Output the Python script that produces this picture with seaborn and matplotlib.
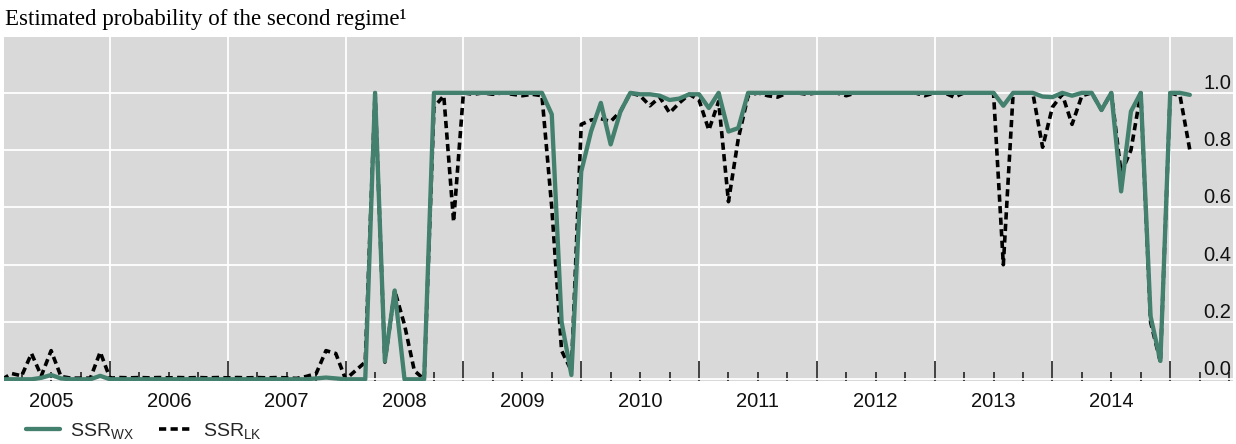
import numpy as np
import pandas as pd
import seaborn as sns
import matplotlib
import matplotlib.pyplot as plt
from matplotlib.ticker import FixedLocator, FixedFormatter, NullFormatter

matplotlib.use('Agg')

# monthly observations, first one is Feb 2005
first_year = 2005
first_month = 1

# SSR_WX, one row per year
ssr_wx = [
    0.0, 0.0, 0.0, 0.0, 0.005, 0.015, 0.003, 0.0, 0.0, 0.0, 0.012,                # 2005 Feb-Dec
    0.0, 0.0, 0.0, 0.0, 0.0, 0.0, 0.0, 0.0, 0.0, 0.0, 0.0, 0.0,                   # 2006
    0.0, 0.0, 0.0, 0.0, 0.0, 0.0, 0.0, 0.0, 0.0, 0.003, 0.006, 0.003,             # 2007
    0.0, 0.0, 0.0, 1.0, 0.063, 0.31, 0.0, 0.0, 0.0, 1.0, 1.0, 1.0,                # 2008
    1.0, 1.0, 1.0, 1.0, 1.0, 1.0, 1.0, 1.0, 1.0, 0.925, 0.20, 0.015,              # 2009
    0.725, 0.865, 0.965, 0.82, 0.935, 1.0, 0.995, 0.995, 0.99, 0.975, 0.98, 0.995,  # 2010
    0.995, 0.947, 1.0, 0.865, 0.877, 1.0, 1.0, 1.0, 1.0, 1.0, 1.0, 1.0,           # 2011
    1.0, 1.0, 1.0, 1.0, 1.0, 1.0, 1.0, 1.0, 1.0, 1.0, 1.0, 1.0,                   # 2012
    1.0, 1.0, 1.0, 1.0, 1.0, 1.0, 1.0, 0.955, 1.0, 1.0, 1.0, 0.987,               # 2013
    0.985, 1.0, 0.99, 1.0, 1.0, 0.94, 1.0, 0.656, 0.935, 1.0, 0.22, 0.064,        # 2014
    1.0, 1.0, 0.993,                                                              # 2015 Jan-Mar
]

# SSR_LK, one row per year
ssr_lk = [
    0.0, 0.02, 0.012, 0.09, 0.012, 0.10, 0.01, 0.004, 0.004, 0.004, 0.095,
    0.004, 0.006, 0.005, 0.006, 0.005, 0.006, 0.005, 0.006, 0.005, 0.006, 0.005, 0.006,
    0.005, 0.006, 0.005, 0.006, 0.005, 0.006, 0.005, 0.003, 0.01, 0.02, 0.10, 0.09,
    0.0, 0.03, 0.06, 1.0, 0.06, 0.31, 0.19, 0.03, 0.0, 0.95, 0.99, 0.55,
    1.0, 0.995, 1.0, 0.995, 1.0, 0.995, 0.99, 0.995, 0.99, 0.6, 0.10, 0.03,
    0.89, 0.905, 0.91, 0.90, 0.935, 1.0, 0.99, 0.955, 0.985, 0.93, 0.965, 0.995,
    0.975, 0.87, 0.97, 0.62, 0.84, 0.99, 1.0, 0.99, 0.985, 1.0, 1.0, 0.995,
    1.0, 1.0, 1.0, 0.99, 1.0, 1.0, 1.0, 1.0, 1.0, 1.0, 1.0, 0.99,
    1.0, 1.0, 0.985, 1.0, 1.0, 1.0, 1.0, 0.40, 1.0, 1.0, 1.0, 0.81,
    0.95, 0.995, 0.89, 0.99, 1.0, 0.94, 1.0, 0.72, 0.80, 1.0, 0.20, 0.06,
    1.0, 0.99, 0.80,
]

year_starts = list(range(2006, 2016))
year_names = [str(y) for y in range(2005, 2015)]
y_ticks = [0.0, 0.2, 0.4, 0.6, 0.8, 1.0]

GREEN = '#43806d'

t = first_year + (first_month + np.arange(len(ssr_wx))) / 12
df = pd.DataFrame({'t': t, 'wx': ssr_wx, 'lk': ssr_lk})

sns.set_style('darkgrid', {'axes.facecolor': '#d9d9d9', 'grid.color': 'white'})
plt.rcParams['font.family'] = ['Liberation Sans', 'DejaVu Sans']
plt.rcParams['mathtext.fontset'] = 'custom'
plt.rcParams['mathtext.rm'] = 'Liberation Sans'
plt.rcParams['mathtext.it'] = 'Liberation Sans:italic'

fig = plt.figure(figsize=(12.36, 4.44), dpi=100)
ax = fig.add_axes([4 / 1236, 1 - 381 / 444, 1229 / 1236, 344 / 444])

# dashed line first so the green one sits on top
sns.lineplot(data=df, x='t', y='lk', ax=ax, color='black', linewidth=2.6,
             linestyle=(0, (2.0, 1.2)), label=r'SSR$_\mathrm{LK}$', zorder=3)
sns.lineplot(data=df, x='t', y='wx', ax=ax, color=GREEN, linewidth=3.1,
             label=r'SSR$_\mathrm{WX}$', zorder=4)

ax.set_xlim(2005.10, 2015.533)
ax.set_ylim(-0.006, 1.195)
ax.set_xlabel('')
ax.set_ylabel('')
for s in ax.spines.values():
    s.set_visible(False)

# x axis: year boundaries as major ticks, quarters as minor, year names at mid-year
quarters = [y + q for y in range(2005, 2016) for q in (0.25, 0.5, 0.75)]
quarter_labels = []
for y in range(2005, 2016):
    quarter_labels += ['', str(y) if str(y) in year_names else '', '']
ax.xaxis.set_major_locator(FixedLocator(year_starts))
ax.xaxis.set_major_formatter(NullFormatter())
ax.xaxis.set_minor_locator(FixedLocator(quarters))
ax.xaxis.set_minor_formatter(FixedFormatter(quarter_labels))
ax.tick_params(axis='x', which='major', direction='in', bottom=True,
               length=14.5, width=1.2, color='#222222')
ax.tick_params(axis='x', which='minor', direction='in', bottom=True,
               length=6.5, width=1.2, color='#222222', pad=8,
               labelsize=14.5, labelcolor='#111111')

# y axis: labels inside on the right, sitting just above the grid lines
ax.yaxis.set_major_locator(FixedLocator(y_ticks))
ax.set_yticklabels([f'{v:.1f}' for v in y_ticks])
ax.tick_params(axis='y', left=False, right=False, labelleft=False,
               labelright=True, pad=-5, labelsize=14.5, labelcolor='#111111')
for lab in ax.get_yticklabels():
    lab.set_ha('right')
    lab.set_va('bottom')

ax.grid(True, which='major', color='white', linewidth=1.3)
ax.grid(False, which='minor')

handles, labels = ax.get_legend_handles_labels()
order = [labels.index(r'SSR$_\mathrm{WX}$'), labels.index(r'SSR$_\mathrm{LK}$')]
ax.legend([handles[i] for i in order], [labels[i] for i in order],
          loc='center left', bbox_to_anchor=(26 / 1236, 1 - 431 / 444),
          bbox_transform=fig.transFigure, ncol=2, frameon=False,
          borderaxespad=0, borderpad=0, fontsize=14, handlelength=1.75,
          handletextpad=0.5, columnspacing=1.3)

fig.text(5 / 1236, 1 - 25 / 444, 'Estimated probability of the second regime\u00b9',
         family=['Liberation Serif', 'DejaVu Serif'], fontsize=16.5,
         va='baseline', ha='left', color='black')

fig.savefig('out.png', dpi=100, facecolor='white')
plt.close(fig)
